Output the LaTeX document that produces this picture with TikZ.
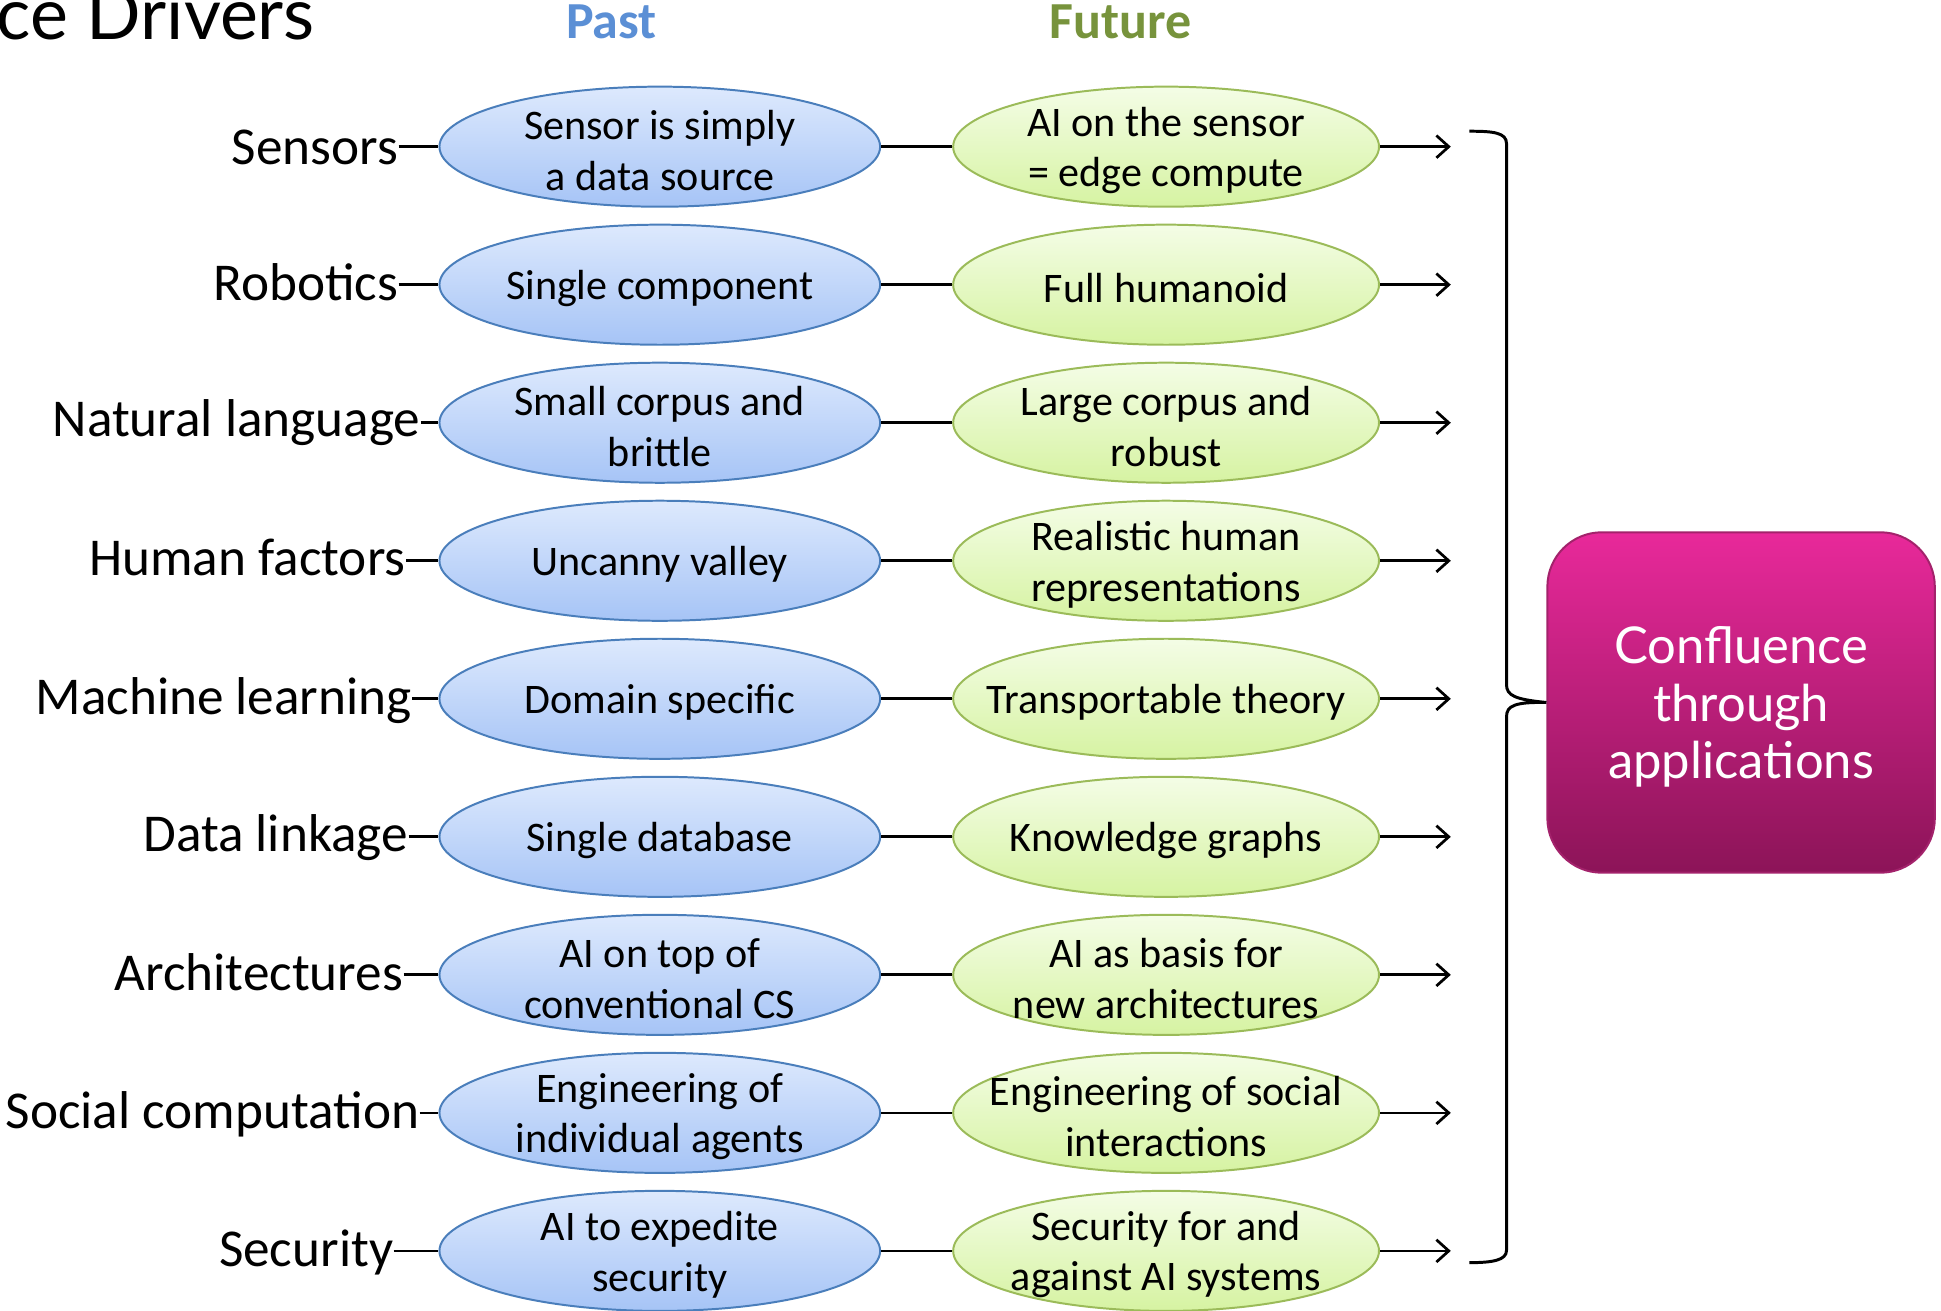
\documentclass[tikz,border=0pt]{standalone}
\usepackage{fontspec}
\setmainfont{Carlito}
\newfontfamily\avfont{Lato}
\usetikzlibrary{shapes.geometric,arrows.meta}

\definecolor{pasttop}{HTML}{DDE9FD}
\definecolor{pastbot}{HTML}{A6C4F6}
\definecolor{pastline}{HTML}{4A7EBB}
\definecolor{futtop}{HTML}{F4FDE6}
\definecolor{futbot}{HTML}{D6F3A2}
\definecolor{futline}{HTML}{9BBB59}
\definecolor{pastblue}{HTML}{5B8FD5}
\definecolor{futgreen}{HTML}{77933C}
\definecolor{apptop}{HTML}{E8299A}
\definecolor{appbot}{HTML}{8C1458}
\definecolor{appline}{HTML}{A3226B}

\tikzset{
  pastell/.style={ellipse, draw=pastline, line width=0.8pt,
    top color=pasttop, bottom color=pastbot,
    minimum width=178pt, minimum height=48.5pt, inner sep=0pt},
  futell/.style={ellipse, draw=futline, line width=0.8pt,
    top color=futtop, bottom color=futbot,
    minimum width=172pt, minimum height=48.5pt, inner sep=0pt},
  elltext/.style={align=center, inner sep=0pt, yshift=-1.5pt,
    font=\fontsize{17}{20.5}\selectfont},
  rowlabel/.style={inner sep=0pt, anchor=base east,
    font=\fontsize{21.5}{25}\selectfont},
  header/.style={inner sep=0pt, anchor=base,
    font=\fontsize{21}{25}\selectfont\bfseries},
  conn/.style={line width=1.1pt, black},
  outarrow/.style={conn, -{Straight Barb[length=5pt,width=9pt]}},
  appbox/.style={draw=appline, line width=0.8pt, rounded corners=22pt,
    top color=apptop, bottom color=appbot,
    minimum width=156.5pt, minimum height=137.5pt,
    text=white, align=center,
    font=\avfont\fontsize{20.5}{23.3}\selectfont},
}

\begin{document}
\begin{tikzpicture}[x=0.5pt,y=-0.5pt]
\useasboundingbox (0,0) rectangle (1568,1059);

% title and column headers
\node[inner sep=0pt, anchor=base west, font=\avfont\fontsize{29}{34}\selectfont]
  (title) at (-3,32) {ce Drivers};
\node[header, text=pastblue] (past) at (494,31) {Past};
\node[header, text=futgreen] (future) at (905,31) {Future};

% one row per driver: label, past ellipse, future ellipse, outgoing arrow
\foreach \i/\lab/\lx/\lo/\ptxt/\ftxt in {
  1/{Sensors}/322/14/{Sensor is simply\\a data source}/{AI on the sensor\\= edge compute},
  2/{Robotics}/322/13/{Single component}/{Full humanoid},
  3/{Natural language}/340/11/{Small corpus and\\brittle}/{Large corpus and\\robust},
  4/{Human factors}/328/12/{Uncanny valley}/{Realistic human\\representations},
  5/{Machine learning}/333/13/{Domain specific}/{Transportable theory},
  6/{Data linkage}/330/12/{Single database}/{Knowledge graphs},
  7/{Architectures}/326/13/{AI on top of\\conventional CS}/{AI as basis for\\new architectures},
  8/{Social computation}/339/13/{Engineering of\\individual agents}/{Engineering of social\\interactions},
  9/{Security}/318/13/{AI to expedite\\security}/{Security for and\\against AI systems}}
{
  \pgfmathsetmacro\yy{118.5+111.5*(\i-1)}
  \pgfmathsetmacro\yb{\yy+\lo}
  \node[pastell] (p\i) at (533,\yy) {};
  \node[elltext] (pt\i) at (p\i) {\ptxt};
  \node[futell] (f\i) at (942,\yy) {};
  \node[elltext] (ft\i) at (f\i) {\ftxt};
  \node[rowlabel] (l\i) at (\lx,\yb) {\lab};
  \coordinate (a\i) at (1172,\yy);
  \draw[conn] (p\i.west -| l\i.east) -- (p\i.west);
  \draw[conn] (p\i) -- (f\i);
  \draw[outarrow] (f\i.east) -- (a\i);
}

% result box
\node[appbox, text depth=0pt] (app) at (1406.5,567.5)
  {\raisebox{0pt}{}Confluence\\through\\applications};

% right brace gathering all rows into the box
\draw[conn, line width=1.2pt]
  (1187,106) .. controls (1206,106) and (1217,107) .. (1217,116)
  -- (1217,553)
  .. controls (1217,562) and (1224,565) .. (app.west)
  .. controls (1224,567) and (1217,570) .. (1217,579)
  -- (1217,1010)
  .. controls (1217,1018) and (1206,1020) .. (1187,1020);
\end{tikzpicture}
\end{document}
